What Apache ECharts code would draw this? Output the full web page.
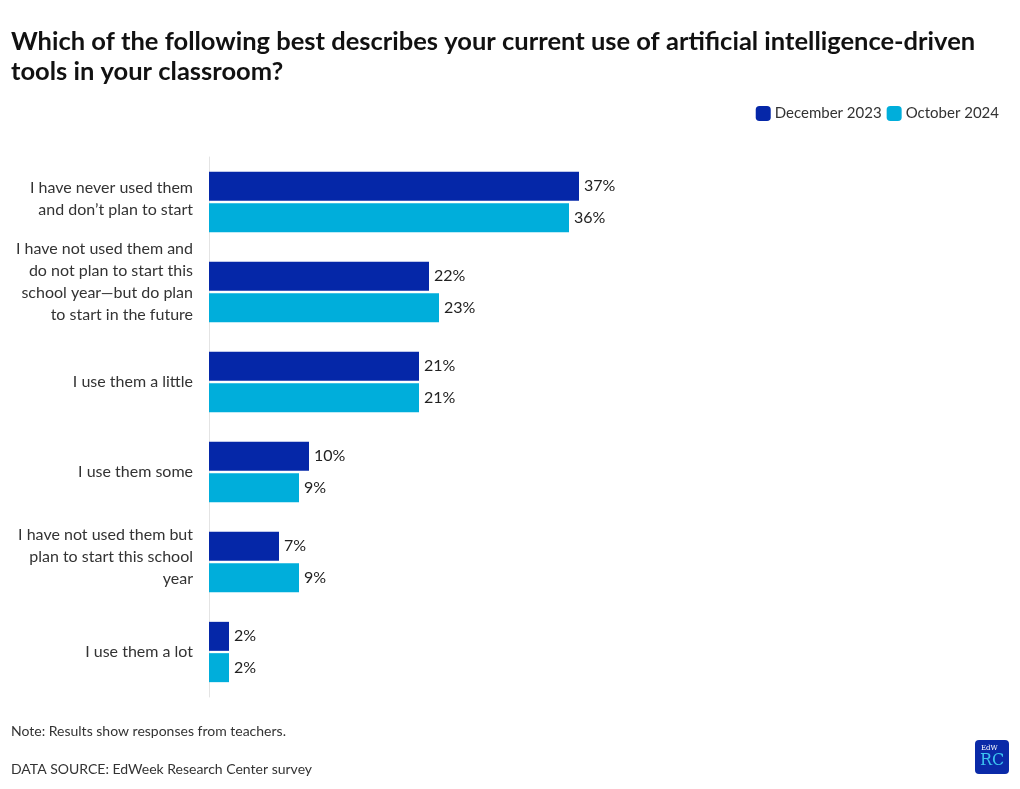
<!DOCTYPE html>
<html>
<head>
<meta charset="utf-8">
<script src="https://cdn.jsdelivr.net/npm/echarts@6/dist/echarts.min.js"></script>
<style>
html,body{margin:0;padding:0;background:#fff;}
#chart{width:1020px;height:789px;}
</style>
</head>
<body>
<div id="chart"></div>
<script>
const categories = [
  "I have never used them\nand don\u2019t plan to start",
  "I have not used them and\ndo not plan to start this\nschool year\u2014but do plan\nto start in the future",
  "I use them a little",
  "I use them some",
  "I have not used them but\nplan to start this school\nyear",
  "I use them a lot"
];
const seriesNames = ["December 2023", "October 2024"];
const dec2023 = [37, 22, 21, 10, 7, 2];
const oct2024 = [36, 23, 21, 9, 9, 2];

const FONT = "Lato";
const chart = echarts.init(document.getElementById('chart'), null, {renderer: 'canvas'});
const labelCfg = {
  show: true, position: 'right', distance: 5,
  formatter: p => p.value + '%',
  color: '#222', fontSize: 16, fontFamily: FONT
};

chart.setOption({
  animation: false,
  textStyle: {fontFamily: FONT},
  title: [
    {
      text: "Which of the following best describes your current use of artificial intelligence-driven\ntools in your classroom?",
      left: 11, top: 27, padding: 0,
      textStyle: {fontSize: 25.5, fontWeight: 'bold', color: '#111', lineHeight: 30, fontFamily: FONT}
    },
    {
      text: "Note: Results show responses from teachers.",
      left: 11, top: 724, padding: 0,
      textStyle: {fontSize: 14, fontWeight: 'normal', color: '#333', fontFamily: FONT}
    },
    {
      text: "DATA SOURCE: EdWeek Research Center survey",
      left: 11, top: 762, padding: 0,
      textStyle: {fontSize: 14, fontWeight: 'normal', color: '#333', fontFamily: FONT}
    }
  ],
  legend: {
    right: 16, top: 101,
    itemWidth: 15, itemHeight: 15, itemGap: 5,
    icon: 'roundRect',
    textStyle: {fontSize: 15, color: '#333', fontFamily: FONT, padding: [0, 0, 0, -1]},
    data: seriesNames
  },
  grid: {left: 209, top: 157, width: 500, height: 540, containLabel: false},
  xAxis: {
    type: 'value', min: 0, max: 50,
    show: false
  },
  yAxis: {
    type: 'category', data: categories, inverse: true,
    axisLine: {show: true, lineStyle: {color: '#e4e4e4', width: 1}},
    axisTick: {show: false},
    axisLabel: {
      margin: 16, color: '#333', fontSize: 16, lineHeight: 22, fontFamily: FONT, align: 'right',
      // multi-line labels sit slightly above the band centre in the reference
      formatter: v => {
        const n = v.split('\n').length;
        return n > 1 ? v + '\n{s' + n + '| }' : v;
      },
      rich: {
        s2: {lineHeight: 6, fontSize: 1},
        s3: {lineHeight: 10, fontSize: 1},
        s4: {lineHeight: 20, fontSize: 1}
      }
    }
  },
  series: [
    {
      name: seriesNames[0], type: 'bar', data: dec2023,
      barWidth: 29, barGap: '8%',
      itemStyle: {color: '#0527a8'},
      label: labelCfg
    },
    {
      name: seriesNames[1], type: 'bar', data: oct2024,
      barWidth: 29,
      itemStyle: {color: '#00aedb'},
      label: labelCfg
    }
  ],
  graphic: [
    {
      type: 'group', left: 975, top: 740,
      children: [
        {type: 'rect', shape: {x: 0, y: 0, width: 34, height: 34, r: 4}, style: {fill: '#0a2aa8'}},
        {type: 'text', style: {x: 6, y: 5, text: 'EdW', fill: '#ffffff', fontSize: 7, fontFamily: 'DejaVu Serif'}},
        {type: 'text', style: {x: 5, y: 13, text: 'RC', fill: '#3cc4f0', fontSize: 16, fontFamily: 'DejaVu Serif'}}
      ]
    }
  ]
});
</script>
</body>
</html>
